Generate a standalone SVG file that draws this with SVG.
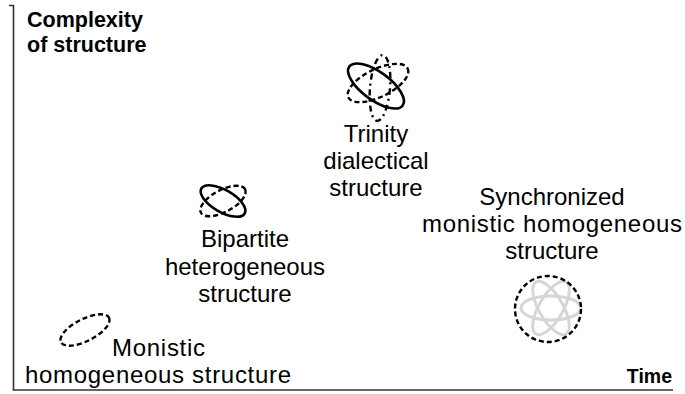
<svg xmlns="http://www.w3.org/2000/svg" width="685" height="394" viewBox="0 0 685 394">
  <style>
    .axis { stroke: #333; stroke-width: 1.6; fill: none; }
    .lbl { font-family: "Liberation Sans", Arial, sans-serif; font-size: 24px; fill: #000; }
    .ttl { font-family: "Liberation Sans", Arial, sans-serif; font-size: 21.5px; font-weight: bold; fill: #000; }
    .solid { fill: none; stroke: #000; stroke-width: 2.6; }
    .dash { fill: none; stroke: #000; stroke-width: 2.4; stroke-dasharray: 5 3; }
    .dot { fill: none; stroke: #000; stroke-width: 2.4; stroke-dasharray: 6 4 2 4; }
    .ghost { fill: none; stroke: #d6d6d6; stroke-width: 3; }
  </style>

  <!-- axes -->
  <g id="axes">
    <path class="axis" d="M9 5.5 H13.5 V390 H673"/>
    <text class="ttl" x="27" y="27">Complexity</text>
    <text class="ttl" x="27" y="52">of structure</text>
    <text class="ttl" x="672" y="383" text-anchor="end" style="font-size:19.5px">Time</text>
  </g>

  <!-- stage 1: single dashed orbit -->
  <g id="monistic">
    <ellipse class="dash" cx="85" cy="330" rx="27" ry="11" transform="rotate(-27 85 330)"/>
    <text class="lbl" x="112" y="356" textLength="93" lengthAdjust="spacing">Monistic</text>
    <text class="lbl" x="25" y="383" textLength="266" lengthAdjust="spacing">homogeneous structure</text>
  </g>

  <!-- stage 2: two crossing orbits -->
  <g id="bipartite">
    <ellipse class="solid" cx="223" cy="201" rx="25" ry="11" transform="rotate(30 223 201)"/>
    <ellipse class="dash" cx="223" cy="201" rx="25" ry="11" transform="rotate(-28 223 201)"/>
    <text class="lbl" x="245" y="247" text-anchor="middle">Bipartite</text>
    <text class="lbl" x="245" y="275" text-anchor="middle">heterogeneous</text>
    <text class="lbl" x="245" y="302" text-anchor="middle">structure</text>
  </g>

  <!-- stage 3: three orbits -->
  <g id="trinity">
    <ellipse class="solid" cx="376" cy="86" rx="33" ry="14" transform="rotate(36 376 86)"/>
    <ellipse class="dash" cx="378" cy="83" rx="33" ry="14" transform="rotate(-26 378 83)"/>
    <ellipse class="dot" cx="380" cy="88" rx="10" ry="33" transform="rotate(5 380 88)"/>
    <text class="lbl" x="376" y="142" text-anchor="middle">Trinity</text>
    <text class="lbl" x="376" y="169" text-anchor="middle">dialectical</text>
    <text class="lbl" x="376" y="196" text-anchor="middle">structure</text>
  </g>

  <!-- stage 4: orbits merged inside a dashed boundary -->
  <g id="synchronized">
    <ellipse class="ghost" cx="551" cy="308" rx="30" ry="12"/>
    <ellipse class="ghost" cx="551" cy="308" rx="30" ry="12" transform="rotate(60 551 308)"/>
    <ellipse class="ghost" cx="551" cy="308" rx="30" ry="12" transform="rotate(120 551 308)"/>
    <circle class="dash" cx="548" cy="309" r="33"/>
    <text class="lbl" x="552" y="205" text-anchor="middle">Synchronized</text>
    <text class="lbl" x="552" y="232" text-anchor="middle" textLength="260" lengthAdjust="spacing">monistic homogeneous</text>
    <text class="lbl" x="552" y="259" text-anchor="middle">structure</text>
  </g>
</svg>
